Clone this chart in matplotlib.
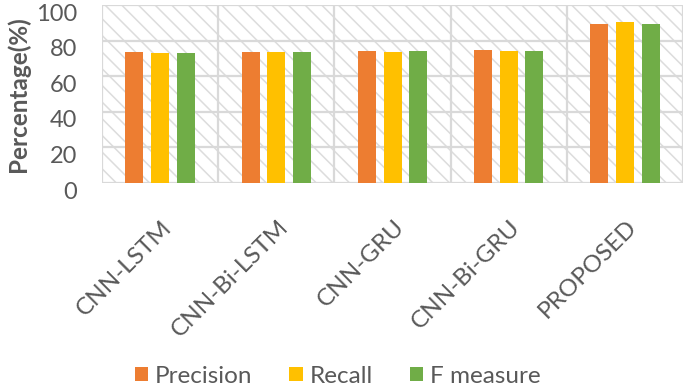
import numpy as np
import matplotlib
matplotlib.use("Agg")
import matplotlib.pyplot as plt
import matplotlib.transforms as mtransforms
from matplotlib.patches import Rectangle

models = ["CNN-LSTM", "CNN-Bi-LSTM", "CNN-GRU", "CNN-Bi-GRU", "PROPOSED"]
precision = [73.4, 73.8, 74.3, 74.5, 89.5]
recall = [73.0, 73.4, 73.8, 74.0, 90.2]
f_measure = [73.0, 73.4, 74.0, 74.1, 89.3]
series_names = ["Precision", "Recall", "F measure"]
colors = ["#ED7D31", "#FFC000", "#70AD47"]

plt.rcParams['font.family'] = ['Lato', 'DejaVu Sans']
plt.rcParams['hatch.linewidth'] = 1.1
plt.rcParams['hatch.color'] = '#dcdcdc'

fig = plt.figure(figsize=(6.85, 3.87), dpi=100)
ax = fig.add_axes([0.149, 0.527, 0.848, 0.46])

x = np.arange(len(models))
width = 0.155
step = 0.222
for i, (vals, name, c) in enumerate(zip([precision, recall, f_measure], series_names, colors)):
    ax.bar(x + (i - 1) * step, vals, width, color=c, label=name, zorder=3)

ax.set_xlim(-0.5, len(models) - 0.5)
ax.set_ylim(0, 100)
ax.set_yticks(range(0, 101, 20))

# hatched background
bg = Rectangle((0, 0), 1, 1, transform=ax.transAxes, facecolor='white',
               edgecolor='#dcdcdc', hatch='\\\\', linewidth=0, zorder=0)
ax.add_patch(bg)

for yv in range(0, 101, 20):
    ax.axhline(yv, color='#d9d9d9', lw=1.6, zorder=1)
for xv in np.arange(-0.5, len(models), 1.0):
    ax.axvline(xv, color='#d9d9d9', lw=1.6, zorder=1)

for s in ax.spines.values():
    s.set_visible(False)

ax.set_xticks(x)
ax.set_xticklabels(models, rotation=45, ha='right', rotation_mode='anchor',
                   fontsize=17.5, color='#595959')
ax.tick_params(axis='both', length=0, colors='#595959')
ax.tick_params(axis='x', pad=24)
ax.tick_params(axis='y', pad=18, labelsize=17)
ax.set_ylabel("Percentage(%)", fontsize=17.5, fontweight='bold', color='#595959', labelpad=4)

# small offsets to mimic the reference label placement
off_y = mtransforms.ScaledTranslation(0, -7 / 100, fig.dpi_scale_trans)
for lab in ax.get_yticklabels():
    lab.set_transform(lab.get_transform() + off_y)
off_x = mtransforms.ScaledTranslation(1 / 100, 0, fig.dpi_scale_trans)
for lab in ax.get_xticklabels():
    lab.set_transform(lab.get_transform() + off_x)

handles, labels = ax.get_legend_handles_labels()
fig.legend(handles, labels, loc='center', bbox_to_anchor=(0.493, 0.028), ncol=3,
           frameon=False, fontsize=17.5, labelcolor='#595959', handlelength=0.55,
           handleheight=0.55, handletextpad=0.3, columnspacing=1.5)

fig.savefig("out.png", dpi=100)
